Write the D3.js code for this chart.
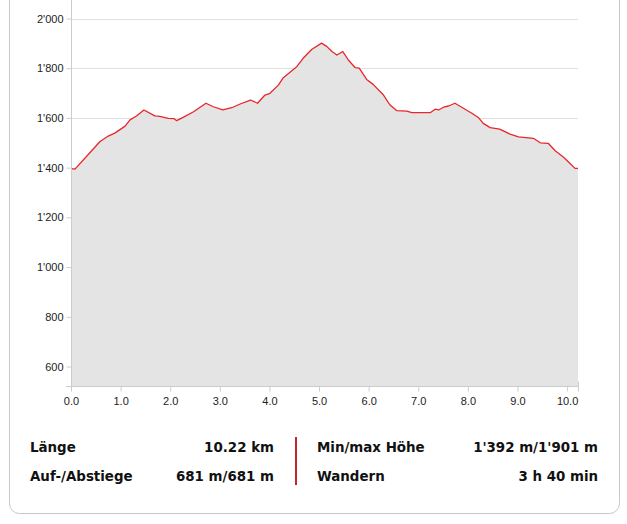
<!DOCTYPE html>
<html>
<head>
<meta charset="utf-8">
<script src="https://cdn.jsdelivr.net/npm/d3@7"></script>
<style>
  html, body { margin: 0; padding: 0; background: #fff; }
  svg { display: block; }
</style>
</head>
<body>
<svg id="chart" width="627" height="524"></svg>
<script>
// distance along the route (km)
const distanceKm = [0.00, 0.08, 0.38, 0.58, 0.75, 0.89, 1.09, 1.19, 1.32, 1.47, 1.69, 1.79, 1.96, 2.08, 2.13,
  2.26, 2.47, 2.72, 2.87, 3.06, 3.24, 3.41, 3.62, 3.76, 3.91, 4.01, 4.18, 4.28, 4.55, 4.68, 4.85, 5.05,
  5.16, 5.26, 5.36, 5.48, 5.59, 5.73, 5.81, 5.96, 6.09, 6.30, 6.43, 6.57, 6.77, 6.87, 7.24, 7.34, 7.41,
  7.51, 7.61, 7.74, 7.91, 8.08, 8.21, 8.31, 8.45, 8.64, 8.85, 9.02, 9.32, 9.46, 9.62, 9.76, 9.93, 10.06,
  10.16, 10.22];
// elevation (m)
const elevationM = [1396, 1394, 1460, 1504, 1527, 1540, 1567, 1592, 1608, 1632, 1608, 1606, 1598, 1597, 1589,
  1602, 1625, 1659, 1645, 1632, 1641, 1656, 1672, 1659, 1692, 1699, 1732, 1762, 1806, 1840, 1875, 1901,
  1887, 1867, 1853, 1867, 1833, 1802, 1800, 1755, 1735, 1692, 1652, 1629, 1627, 1621, 1621, 1635, 1632,
  1643, 1648, 1659, 1639, 1619, 1602, 1578, 1561, 1555, 1535, 1524, 1518, 1500, 1498, 1468, 1442, 1417,
  1397, 1397];
const yTickValues = [600, 800, 1000, 1200, 1400, 1600, 1800, 2000];
const xTickValues = [0, 1, 2, 3, 4, 5, 6, 7, 8, 9, 10];
const statsLeft = [["Länge", "10.22 km"], ["Auf-/Abstiege", "681 m/681 m"]];
const statsRight = [["Min/max Höhe", "1'392 m/1'901 m"], ["Wandern", "3 h 40 min"]];

const data = distanceKm.map((d, i) => ({ km: d, ele: elevationM[i] }));

const svg = d3.select("#chart");

// card
svg.append("rect")
  .attr("x", 9.5).attr("y", -30).attr("width", 610).attr("height", 543.5)
  .attr("rx", 10).attr("ry", 10)
  .attr("fill", "#fff").attr("stroke", "#c8c8c8").attr("stroke-width", 1);

const left = 71, right = 578, bottom = 386;
const x = d3.scaleLinear().domain([0, 10.22]).range([left, right]);
const y = d3.scaleLinear().domain([600, 2000]).range([366.5, 18.5]);
const baseVal = y.invert(bottom);

const fmt = v => {
  const s = String(v);
  return s.length > 3 ? s.slice(0, s.length - 3) + "'" + s.slice(-3) : s;
};

// gridlines
svg.append("g").selectAll("line").data(yTickValues).join("line")
  .attr("x1", left).attr("x2", right)
  .attr("y1", d => Math.round(y(d)) + 0.5).attr("y2", d => Math.round(y(d)) + 0.5)
  .attr("stroke", "#e0e0e0").attr("stroke-width", 1);

// area
svg.append("path").datum(data)
  .attr("d", d3.area().x(d => x(d.km)).y0(y(baseVal)).y1(d => y(d.ele)))
  .attr("fill", "#e4e4e4");

// line
svg.append("path").datum(data)
  .attr("d", d3.line().x(d => x(d.km)).y(d => y(d.ele)))
  .attr("fill", "none").attr("stroke", "#e8262b").attr("stroke-width", 1.3)
  .attr("stroke-linejoin", "round");

// y axis
const yAxis = svg.append("g").attr("transform", `translate(${left + 0.5},0)`)
  .call(d3.axisLeft(y).tickValues(yTickValues).tickFormat(fmt).tickSize(5).tickPadding(3));
yAxis.select(".domain").remove();
yAxis.append("line").attr("x1", 0).attr("x2", 0).attr("y1", -30).attr("y2", bottom)
  .attr("stroke", "#ccc");
yAxis.selectAll(".tick line").attr("stroke", "#ccc");
yAxis.selectAll(".tick text").attr("fill", "#222")
  .style("font-family", "'Liberation Sans', Arial, sans-serif").style("font-size", "11px");

// x axis
const xAxis = svg.append("g").attr("transform", `translate(0,${bottom + 0.5})`)
  .call(d3.axisBottom(x).tickValues(xTickValues).tickFormat(d3.format(".1f")).tickSize(5).tickPadding(6));
xAxis.select(".domain").remove();
xAxis.append("line").attr("x1", left - 5).attr("x2", right).attr("stroke", "#ccc");
xAxis.append("line").attr("x1", right + 0.5).attr("x2", right + 0.5).attr("y1", -5).attr("y2", 5).attr("stroke", "#ccc");
xAxis.selectAll(".tick line").attr("stroke", "#ccc");
xAxis.selectAll(".tick text").attr("fill", "#222")
  .style("font-family", "'Liberation Sans', Arial, sans-serif").style("font-size", "11px");

// stats table
const tf = "'DejaVu Sans', Verdana, sans-serif";
const rowsY = [452, 481];
const st = svg.append("g").style("font-family", tf).style("font-size", "13.4px")
  .style("font-weight", "bold").attr("fill", "#111");
statsLeft.forEach((r, i) => {
  st.append("text").attr("x", 30).attr("y", rowsY[i]).text(r[0]);
  st.append("text").attr("x", 274).attr("y", rowsY[i]).attr("text-anchor", "end").text(r[1]);
});
statsRight.forEach((r, i) => {
  st.append("text").attr("x", 317).attr("y", rowsY[i]).text(r[0]);
  st.append("text").attr("x", 598).attr("y", rowsY[i]).attr("text-anchor", "end").text(r[1]);
});
svg.append("line").attr("x1", 296).attr("x2", 296).attr("y1", 437).attr("y2", 485)
  .attr("stroke", "#c0272d").attr("stroke-width", 2);
</script>
</body>
</html>
